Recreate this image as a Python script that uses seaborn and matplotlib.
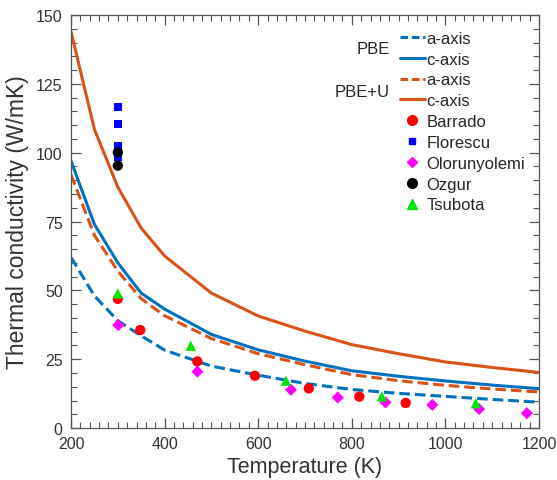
import pandas as pd
import seaborn as sns
import matplotlib.pyplot as plt
from matplotlib.lines import Line2D
from matplotlib.ticker import MultipleLocator

# calculated curves (temperature grid shared by all four)
temps = [200, 250, 300, 350, 400, 500, 600, 700, 800, 900, 1000, 1100, 1200]
pbe_a = [62, 48, 39, 33.5, 28.3, 22.5, 19.2, 16.2, 14, 12.6, 11.5, 10.4, 9.4]
pbe_c = [97, 74, 60, 49, 43.2, 34, 28.4, 24.3, 20.8, 18.8, 17.1, 15.6, 14.3]
pbeu_a = [92, 70, 57, 47, 40.8, 32.5, 27, 23, 19.4, 17.2, 15.5, 14.2, 13.1]
pbeu_c = [144, 108.5, 87.5, 72.6, 62.5, 49, 40.7, 35.2, 30.3, 27, 24, 22, 20.2]

# experimental data
barrado_t = [300, 348, 470, 593, 708, 816, 915]
barrado_k = [46.9, 35.6, 24.2, 19, 14.4, 11.4, 9.1]
florescu_t = [300, 300, 300, 300]
florescu_k = [116.5, 110.4, 102.5, 98.3]
olorun_t = [301, 470, 670, 770, 872, 972, 1072, 1174]
olorun_k = [37.4, 20.5, 13.9, 11.1, 9.3, 8.4, 6.9, 5.4]
ozgur_t = [300, 300]
ozgur_k = [100.1, 95.3]
tsubota_t = [300, 456, 659, 864, 1065]
tsubota_k = [48.9, 29.9, 17.2, 11.5, 9.0]

BLUE = "#0072BD"
ORANGE = "#D95319"

sns.set_style("white")
plt.rcParams["font.family"] = ["Liberation Sans", "DejaVu Sans"]

fig = plt.figure(figsize=(5.57, 4.81), dpi=100)
ax = fig.add_axes([0.1275, 0.108, 0.8402, 0.8587])

curves = pd.DataFrame({"T": temps * 4,
                       "k": pbe_a + pbe_c + pbeu_a + pbeu_c,
                       "set": ["pbe_a"] * 13 + ["pbe_c"] * 13 + ["pbeu_a"] * 13 + ["pbeu_c"] * 13})
styles = {"pbe_a": (BLUE, (3.5, 1.6)), "pbe_c": (BLUE, None),
          "pbeu_a": (ORANGE, (3.5, 1.6)), "pbeu_c": (ORANGE, None)}
for name, (color, dash) in styles.items():
    sub = curves[curves["set"] == name]
    sns.lineplot(data=sub, x="T", y="k", color=color, linewidth=2.2, ax=ax)
    if dash is not None:
        ax.lines[-1].set_dashes(dash)

exp = [
    (barrado_t, barrado_k, "red", "o", 55),
    (florescu_t, florescu_k, "blue", "s", 30),
    (olorun_t, olorun_k, "magenta", "D", 38),
    (ozgur_t, ozgur_k, "black", "o", 55),
    (tsubota_t, tsubota_k, "#00E600", "^", 55),
]
for t, k, c, m, s in exp:
    sns.scatterplot(x=t, y=k, color=c, marker=m, s=s, edgecolor="none", ax=ax, zorder=3)

ax.set_xlim(200, 1200)
ax.set_ylim(0, 150)
ax.xaxis.set_major_locator(MultipleLocator(200))
ax.xaxis.set_minor_locator(MultipleLocator(20))
ax.yaxis.set_major_locator(MultipleLocator(25))
ax.yaxis.set_minor_locator(MultipleLocator(5))
ax.tick_params(which="both", direction="in", bottom=True, left=True, top=True, right=True,
               colors="#555555", labelcolor="#333333", labelsize=11.5)
ax.tick_params(which="major", length=7, width=0.9, pad=6)
ax.tick_params(which="minor", length=4, width=0.8)
for sp in ax.spines.values():
    sp.set_color("#555555")
    sp.set_linewidth(0.9)

ax.set_xlabel("Temperature (K)", fontsize=15.5, color="#333333", labelpad=3)
ax.set_ylabel("Thermal conductivity (W/mK)", fontsize=16.5, color="#333333", labelpad=5)

handles = [
    Line2D([], [], color=BLUE, lw=2.2, dashes=(2.5, 1.2)),
    Line2D([], [], color=BLUE, lw=2.2),
    Line2D([], [], color=ORANGE, lw=2.2, dashes=(2.5, 1.2)),
    Line2D([], [], color=ORANGE, lw=2.2),
    Line2D([], [], color="red", marker="o", ls="none", ms=7),
    Line2D([], [], color="blue", marker="s", ls="none", ms=5),
    Line2D([], [], color="magenta", marker="D", ls="none", ms=5.5),
    Line2D([], [], color="black", marker="o", ls="none", ms=7),
    Line2D([], [], color="#00E600", marker="^", ls="none", ms=7),
]
labels = ["a-axis", "c-axis", "a-axis", "c-axis",
          "Barrado", "Florescu", "Olorunyolemi", "Ozgur", "Tsubota"]
ax.legend(handles, labels, loc="upper left", bbox_to_anchor=(0.688, 0.978),
          frameon=False, fontsize=12, handlelength=1.5, handletextpad=0.1,
          labelspacing=0.35, borderaxespad=0)
ax.text(0.682, 0.918, "PBE", transform=ax.transAxes, ha="right", va="center", fontsize=12)
ax.text(0.682, 0.816, "PBE+U", transform=ax.transAxes, ha="right", va="center", fontsize=12)

fig.savefig("out.png", dpi=100)
